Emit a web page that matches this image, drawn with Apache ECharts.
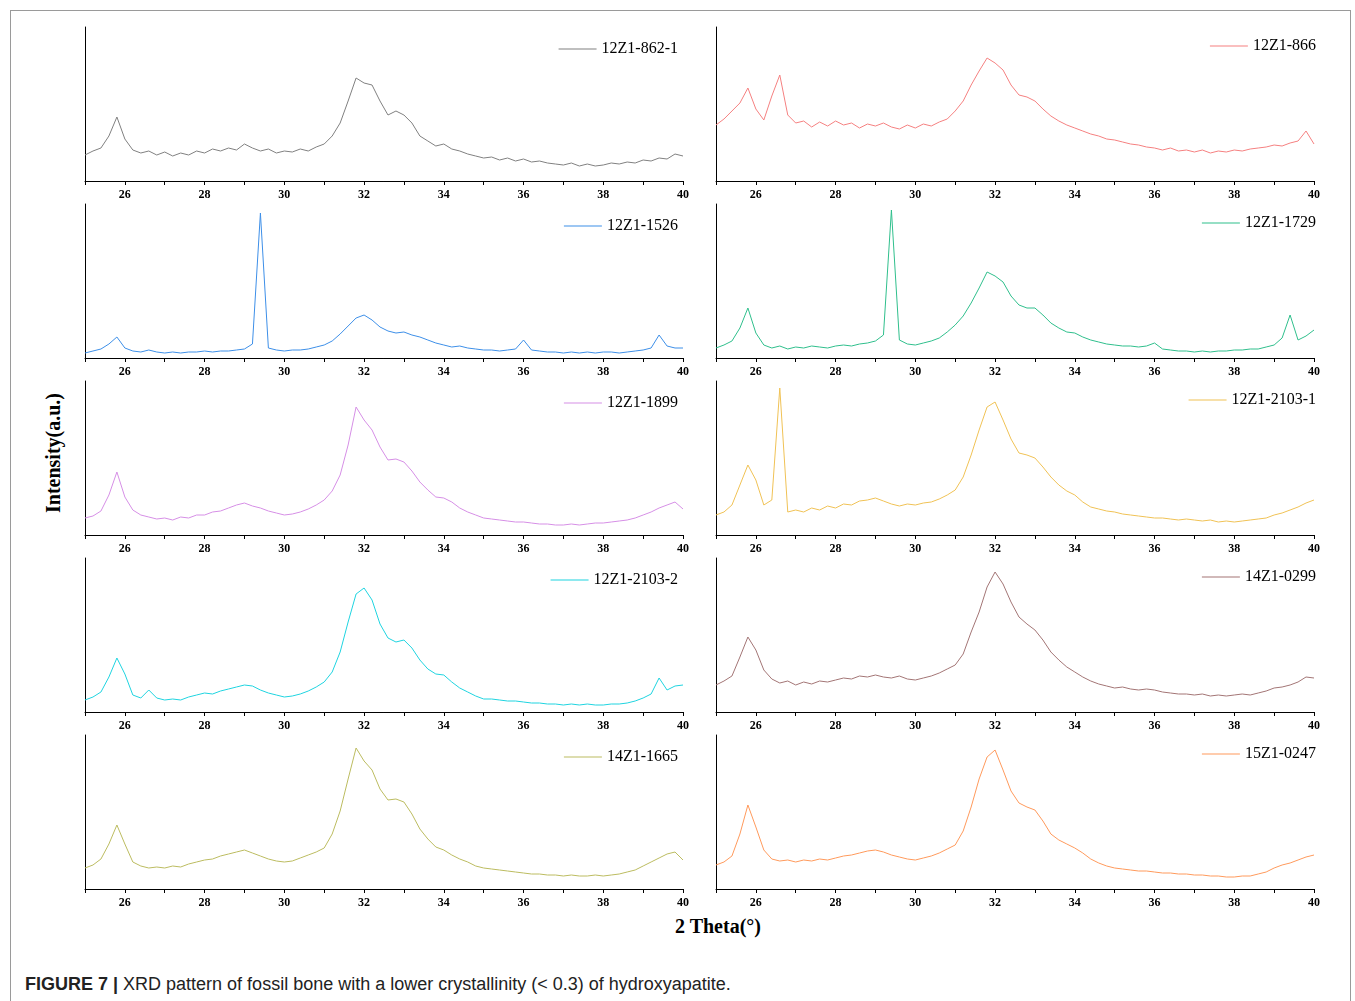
<!DOCTYPE html>
<html>
<head>
<meta charset="utf-8">
<script src="https://cdn.jsdelivr.net/npm/echarts@6/dist/echarts.min.js"></script>
<style>
  html, body { margin: 0; padding: 0; background: #fff; }
  #page { position: relative; width: 1355px; height: 1001px; overflow: hidden; }
  #frame { position: absolute; left: 10px; top: 10px; width: 1339px; height: 995px; border: 1px solid #9a9a9a; }
  .panel { position: absolute; width: 620px; height: 186px; }
  #ylab { position: absolute; left: 53px; top: 453px; transform: translate(-50%, -50%) rotate(-90deg);
          font: bold 20px 'Liberation Serif'; white-space: nowrap; }
  #xlab { position: absolute; left: 718px; top: 926px; transform: translate(-50%, -50%);
          font: bold 20px 'Liberation Serif'; white-space: nowrap; }
  #cap { position: absolute; left: 25px; top: 974px; font: 18px 'Liberation Sans'; color: #222; white-space: nowrap; }
</style>
</head>
<body>
<div id="page">
  <div id="frame"></div>
  <div id="ylab">Intensity(a.u.)</div>
  <div id="xlab">2 Theta(°)</div>
  <div id="cap"><b>FIGURE 7 |</b> XRD pattern of fossil bone with a lower crystallinity (&lt; 0.3) of hydroxyapatite.</div>
</div>
<script>
// 2 Theta grid: 25.0 .. 40.0, step 0.2
var theta = [];
for (var i = 0; i <= 75; i++) theta.push(+(25 + i * 0.2).toFixed(1));

var names = ["12Z1-862-1", "12Z1-866", "12Z1-1526", "12Z1-1729", "12Z1-1899",
  "12Z1-2103-1", "12Z1-2103-2", "14Z1-0299", "14Z1-1665", "15Z1-0247"];
var colors = ["#808080", "#f58080", "#3d8fe8", "#2fbf8c", "#d68fe6",
  "#f0c255", "#1fd4e0", "#a37575", "#bcbc60", "#ff9a5c"];

var s862 = [26,30,33,45,64,42,31,28,30,26,29,25,28,26,30,28,32,30,33,31,37,33,30,32,28,30,29,32,30,34,37,45,58,80,103,98,96,80,66,70,66,58,45,40,35,37,32,30,27,25,23,24,21,23,20,22,19,20,18,17,16,18,15,17,15,16,18,17,19,18,21,20,23,22,27,25];
var s866 = [56,62,70,78,93,72,61,85,106,66,58,60,54,59,55,60,56,58,53,57,55,58,54,52,56,53,57,55,59,62,70,80,96,110,123,118,111,96,86,84,80,72,65,60,56,53,50,47,45,42,41,39,37,36,34,33,31,33,30,31,29,31,28,30,29,31,30,32,33,34,36,35,38,40,50,37];
var s1526 = [5,7,9,14,21,10,7,6,8,6,5,6,5,6,6,7,6,7,7,8,9,14,145,10,8,7,8,8,9,11,13,17,24,32,40,43,38,31,27,25,26,23,21,18,15,13,11,12,10,9,8,8,7,8,9,18,8,7,6,6,5,6,5,6,5,6,6,5,6,7,8,10,23,12,10,10];
var s1729 = [10,13,17,30,50,25,13,10,12,9,11,10,12,11,10,12,13,12,14,15,17,23,148,18,14,13,15,17,20,26,33,42,55,70,86,82,76,62,53,50,50,43,35,30,26,25,21,18,16,14,13,12,12,11,12,15,9,8,7,7,6,7,6,7,7,8,8,9,9,11,13,20,43,18,22,28];
var s1899 = [17,19,24,40,63,38,25,20,18,16,17,15,18,17,20,20,23,24,27,30,32,29,27,24,22,20,21,23,26,30,35,44,60,90,128,115,105,88,75,76,73,64,53,45,38,37,33,27,23,20,17,16,15,14,13,13,12,11,11,10,10,11,10,11,12,12,13,14,15,17,20,23,27,30,33,26];
var s2103a = [20,23,30,50,70,55,30,35,147,23,25,23,27,25,29,27,31,30,34,35,37,34,31,29,31,30,32,33,36,40,45,58,80,105,128,133,115,96,82,80,77,68,58,50,44,40,33,28,26,24,23,21,20,19,18,17,17,16,15,16,15,14,15,13,14,13,14,15,16,17,20,22,25,28,32,35];
var s2103b = [12,15,20,35,54,38,17,14,22,14,12,13,12,15,17,19,18,21,23,25,27,26,22,19,17,15,16,18,21,25,30,40,60,90,118,124,112,88,74,70,72,64,52,43,38,37,30,24,20,16,13,13,12,11,11,10,9,9,8,8,7,8,7,8,7,7,8,8,9,11,14,18,34,22,26,27];
var s0299 = [27,31,36,55,75,62,42,33,29,31,27,30,28,31,30,32,34,33,36,35,37,35,34,36,33,32,34,36,39,43,47,58,80,100,125,140,128,110,95,88,82,72,60,52,45,40,35,31,28,26,24,25,23,22,23,22,20,19,18,18,17,18,16,17,16,17,18,17,19,21,24,25,27,30,35,34];
var s1665 = [21,24,30,45,64,45,27,23,21,22,21,23,22,25,27,29,30,33,35,37,39,36,33,30,28,27,28,31,34,37,41,55,78,110,141,128,119,100,89,90,87,75,60,50,42,39,34,30,27,23,21,20,19,18,17,16,15,15,14,14,13,14,13,13,14,13,14,15,17,19,23,27,31,35,37,29];
var s0247 = [24,27,33,55,84,62,39,30,28,29,27,29,28,30,29,31,33,34,36,38,39,37,34,32,30,29,31,33,36,40,44,58,82,110,132,139,119,98,86,82,79,68,55,49,45,41,36,30,26,23,21,20,19,18,18,17,16,16,15,15,14,14,13,13,12,12,13,13,15,17,21,24,26,29,32,34];

var seriesData = [s862, s866, s1526, s1729, s1899, s2103a, s2103b, s0299, s1665, s0247];

var page = document.getElementById("page");

// one small chart per panel
for (var k = 0; k < 10; k++) {
  var col = k % 2, row = Math.floor(k / 2);
  var div = document.createElement("div");
  div.className = "panel";
  div.style.left = (col === 0 ? 75 : 706) + "px";
  div.style.top = (22 + row * 177) + "px";
  page.appendChild(div);

  var chart = echarts.init(div);
  var pts = theta.map(function (t, i) { return [t, seriesData[k][i]]; });
  chart.setOption({
    animation: false,
    grid: { left: 10, top: 5, width: 598, height: 154 },
    legend: {
      data: [names[k]], right: col === 0 ? 12 : 5, top: col === 0 ? 14 : 11,
      icon: "rect", itemWidth: 38, itemHeight: 1, itemGap: 5,
      textStyle: { fontFamily: "Liberation Serif", fontSize: 16, color: "#000" }
    },
    xAxis: {
      type: "value", min: 25, max: 40, interval: 1,
      axisLine: { lineStyle: { color: "#000", width: 1 } },
      axisTick: { show: true, length: 4, lineStyle: { color: "#000" } },
      axisLabel: { color: "#000", fontFamily: "Liberation Serif", fontWeight: "bold",
                   fontSize: 12, margin: 8,
                   formatter: function (v) { return v % 2 === 0 ? String(v) : ""; } },
      splitLine: { show: false }
    },
    yAxis: {
      type: "value", min: 0, max: 154,
      axisLine: { show: true, lineStyle: { color: "#000", width: 1 } },
      axisTick: { show: false }, axisLabel: { show: false }, splitLine: { show: false }
    },
    series: [{
      name: names[k], type: "line", data: pts, showSymbol: false,
      color: colors[k], lineStyle: { color: colors[k], width: 1 }
    }]
  });
}
</script>
</body>
</html>
